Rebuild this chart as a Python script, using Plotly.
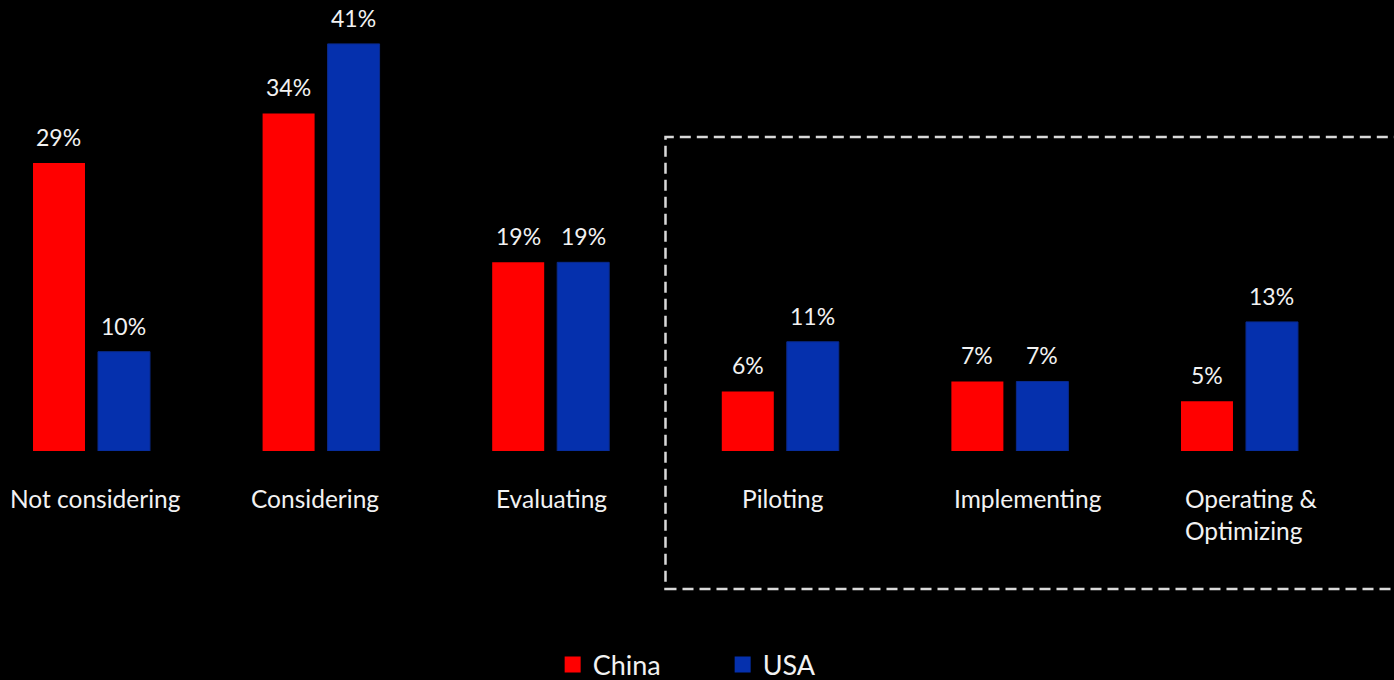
import plotly.graph_objects as go

categories = ["Not considering", "Considering", "Evaluating", "Piloting", "Implementing", "Operating &<br>Optimizing"]
china = [29, 34, 19, 6, 7, 5]
usa = [10, 41, 19, 11, 7, 13]
series_names = ["China", "USA"]

RED = "#FF0000"
BLUE = "#0530AD"
TXT = "#F2F2F2"
FONT = "Lato"

label_xshift = [4, -6, 1, 3, 18, 12]
x_idx = list(range(len(categories)))

fig = go.Figure()
fig.add_trace(go.Bar(x=x_idx, y=china, name=series_names[0], marker=dict(color=RED, line=dict(width=0)),
                     showlegend=False, hoverinfo="skip"))
fig.add_trace(go.Bar(x=x_idx, y=usa, name=series_names[1], marker=dict(color=BLUE, line=dict(color="#0A2A8C", width=1)),
                     showlegend=False, hoverinfo="skip"))

# legend-only entries with larger square swatches
for nm, col in zip(series_names, [RED, BLUE]):
    fig.add_trace(go.Scatter(x=[None], y=[None], mode="markers", name=nm,
                             marker=dict(symbol="square", size=17, color=col, line=dict(width=0))))

annotations = []
for vals, dx in ((china, -32.5), (usa, 32.5)):
    for i, v in enumerate(vals):
        annotations.append(dict(x=i, y=v, xref="x", yref="y", text=f"{v}%", showarrow=False,
                                xshift=dx, yshift=26, yanchor="middle",
                                font=dict(family=FONT, size=23, color=TXT)))
for i, c in enumerate(categories):
    annotations.append(dict(x=i, y=0, xref="x", yref="paper", text=c, showarrow=False,
                            xanchor="center", yanchor="top", yshift=-31, xshift=label_xshift[i],
                            align="left", font=dict(family=FONT, size=24.5, color=TXT)))

fig.update_layout(
    width=1394, height=680,
    paper_bgcolor="black", plot_bgcolor="black",
    margin=dict(l=0, r=0, t=0, b=229, pad=0),
    barmode="group", bargap=0.4338, bargroupgap=0.2,
    xaxis=dict(range=[-0.3985, 5.673], showgrid=False, zeroline=False, showticklabels=False,
               showline=False, ticks=""),
    yaxis=dict(range=[0, 45.42], showgrid=False, zeroline=False, showticklabels=False,
               showline=False, ticks=""),
    showlegend=True,
    legend=dict(orientation="h", xref="container", yref="container", x=0.5184, y=0.022,
                xanchor="center", yanchor="middle", entrywidth=125,
                font=dict(family=FONT, size=27, color=TXT), bgcolor="rgba(0,0,0,0)"),
    annotations=annotations,
    shapes=[dict(type="rect", xref="paper", yref="paper", x0=0.4774, x1=1.05, y0=-0.306, y1=0.696,
                 line=dict(color="#D9D9D9", width=2.5, dash="11px,6px"), fillcolor="rgba(0,0,0,0)",
                 layer="above")],
)

fig.write_html("out.html", config={"displayModeBar": False},
               post_script="document.body.style.margin='0';document.body.style.background='black';")
